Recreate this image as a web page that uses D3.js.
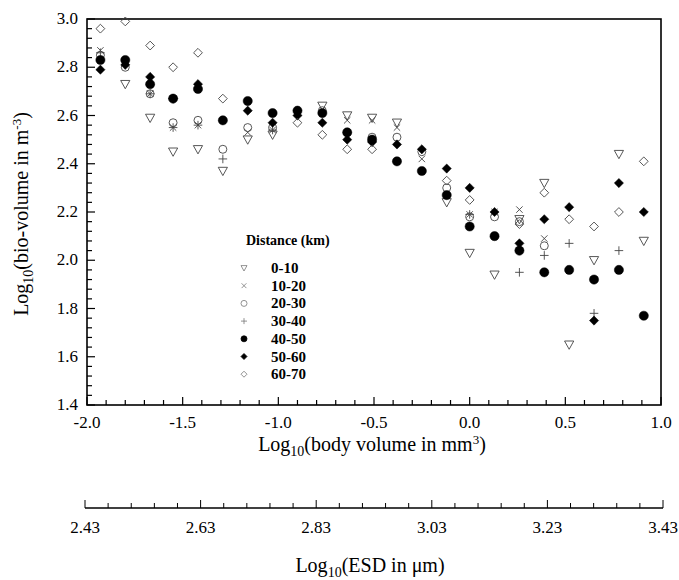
<!DOCTYPE html>
<html><head><meta charset="utf-8">
<script src="https://cdn.jsdelivr.net/npm/d3@7"></script>
<style>
body{margin:0;background:#fff;}
text{font-family:'Liberation Serif','Tinos','Times New Roman','DejaVu Serif','Noto Serif',serif;}
</style></head>
<body><svg id="c" width="679" height="580" font-family="Liberation Serif, Tinos, Times New Roman, DejaVu Serif, serif"></svg>
<script>
// ---- data ----
const xValues = [-1.93,-1.80,-1.67,-1.55,-1.42,-1.29,-1.16,-1.03,-0.90,-0.77,-0.64,-0.51,-0.38,-0.25,-0.12,0.00,0.13,0.26,0.39,0.52,0.65,0.78,0.91];
const seriesNames = ["0-10","10-20","20-30","30-40","40-50","50-60","60-70"];
const d0_10  = [null,2.73,2.59,2.45,2.46,2.37,2.50,2.52,null,2.64,2.60,2.59,2.57,null,2.24,2.03,1.94,2.17,2.32,1.65,2.00,2.44,2.08];
const d10_20 = [2.87,null,2.69,2.55,2.56,null,2.53,2.54,null,null,2.58,2.58,2.55,2.42,null,2.19,2.20,2.21,2.09,null,null,null,null];
const d20_30 = [2.85,2.80,2.69,2.57,2.58,2.46,2.55,2.55,null,2.62,2.53,2.51,2.51,2.45,2.30,2.18,2.18,2.16,2.06,null,null,null,null];
const d30_40 = [2.86,null,2.69,2.55,2.56,2.42,null,2.54,null,null,null,null,null,null,null,2.19,null,1.95,2.02,2.07,1.78,2.04,null];
const d40_50 = [2.83,2.83,2.73,2.67,2.71,2.58,2.66,2.61,2.62,2.61,2.53,2.50,2.41,2.37,2.27,2.14,2.10,2.04,1.95,1.96,1.92,1.96,1.77];
const d50_60 = [2.79,2.81,2.76,2.67,2.73,null,2.62,2.57,2.60,2.57,2.50,2.49,2.48,2.46,2.38,2.30,2.20,2.07,2.17,2.22,1.75,2.32,2.20];
const d60_70 = [2.96,2.99,2.89,2.80,2.86,2.67,null,null,2.57,2.52,2.46,2.46,null,null,2.33,2.25,null,2.15,2.28,2.17,2.14,2.20,2.41];
const seriesValues = [d0_10,d10_20,d20_30,d30_40,d40_50,d50_60,d60_70];
const yTicks = [1.4,1.6,1.8,2.0,2.2,2.4,2.6,2.8,3.0];
const xTicks = [-2.0,-1.5,-1.0,-0.5,0.0,0.5,1.0];
const esdTicks = [2.43,2.63,2.83,3.03,3.23,3.43];

// ---- layout ----
const svg = d3.select("#c");
const L=87, R=661, T=19, B=405;
const x = d3.scaleLinear().domain([-2,1]).range([L,R]);
const y = d3.scaleLinear().domain([1.4,3.0]).range([B,T]);
const xe = d3.scaleLinear().domain([2.43,3.43]).range([85,663]);
const shapes = ["triDown","x","circle","plus","disc","diamondF","diamond"];

function shapePath(type, s){
  const p = d3.path();
  if(type==="triDown"){ p.moveTo(-s,-s*0.8); p.lineTo(s,-s*0.8); p.lineTo(0,s*1.0); p.closePath(); }
  else if(type==="x"){ const a=s*0.8; p.moveTo(-a,-a); p.lineTo(a,a); p.moveTo(-a,a); p.lineTo(a,-a); }
  else if(type==="plus"){ p.moveTo(-s,0); p.lineTo(s,0); p.moveTo(0,-s); p.lineTo(0,s); }
  else if(type==="circle"||type==="disc"){ p.moveTo(s,0); p.arc(0,0,s,0,2*Math.PI); }
  else { p.moveTo(0,-s); p.lineTo(s,0); p.lineTo(0,s); p.lineTo(-s,0); p.closePath(); }
  return p.toString();
}
function styleFor(type){
  if(type==="disc"||type==="diamondF") return {fill:"#000",stroke:"#000",sw:0.5};
  return {fill:"none",stroke:"#444",sw:0.9};
}
const sizeFor = {triDown:4.6,x:4,circle:4,plus:4.3,disc:4.6,diamondF:4.6,diamond:4.4};
const fmt1 = d => d.toFixed(1);
const fmt2 = d => d.toFixed(2);

// frame
svg.append("rect").attr("x",L).attr("y",T).attr("width",R-L).attr("height",B-T)
  .attr("fill","none").attr("stroke","#000").attr("stroke-width",1.6);

// y ticks (inward)
const yMinor = d3.range(0,41).map(i=>1.4+i*0.04);
svg.append("g").selectAll("line").data(yMinor).join("line")
  .attr("x1",L).attr("x2",(d,i)=>L+(i%5===0?8:5))
  .attr("y1",d=>y(d)).attr("y2",d=>y(d)).attr("stroke","#000").attr("stroke-width",1.2);
svg.append("g").selectAll("text").data(yTicks).join("text")
  .attr("x",L-9).attr("y",d=>y(d)+5).attr("text-anchor","end").attr("font-size",17)
  .text(fmt1);

// x ticks (inward)
const xMinor = d3.range(0,31).map(i=>-2+i*0.1);
svg.append("g").selectAll("line").data(xMinor).join("line")
  .attr("x1",d=>x(d)).attr("x2",d=>x(d)).attr("y1",B)
  .attr("y2",(d,i)=>B-(i%5===0?8:5)).attr("stroke","#000").attr("stroke-width",1.2);
svg.append("g").selectAll("text").data(xTicks).join("text")
  .attr("x",d=>x(d)).attr("y",B+23).attr("text-anchor","middle").attr("font-size",17)
  .text(fmt1);

// ESD axis
const EY = 508;
svg.append("line").attr("x1",xe(2.43)).attr("x2",xe(3.43)).attr("y1",EY).attr("y2",EY).attr("stroke","#000").attr("stroke-width",1.4);
const eMinor = d3.range(0,26).map(i=>2.43+i*0.04);
svg.append("g").selectAll("line").data(eMinor).join("line")
  .attr("x1",d=>xe(d)).attr("x2",d=>xe(d)).attr("y1",EY)
  .attr("y2",(d,i)=>EY-(i%5===0?8:5)).attr("stroke","#000").attr("stroke-width",1);
svg.append("g").selectAll("text").data(esdTicks).join("text")
  .attr("x",d=>xe(d)).attr("y",EY+25).attr("text-anchor","middle").attr("font-size",17)
  .text(fmt2);

// axis titles
const xt = svg.append("text").attr("x",372).attr("y",451).attr("text-anchor","middle").attr("font-size",20);
xt.append("tspan").text("Log");
xt.append("tspan").attr("font-size",14).attr("dy",5).text("10");
xt.append("tspan").attr("dy",-5).text("(body volume in mm");
xt.append("tspan").attr("font-size",13).attr("dy",-7).text("3");
xt.append("tspan").attr("dy",7).text(")");

const et = svg.append("text").attr("x",370).attr("y",572).attr("text-anchor","middle").attr("font-size",20);
et.append("tspan").text("Log");
et.append("tspan").attr("font-size",14).attr("dy",5).text("10");
et.append("tspan").attr("dy",-5).text("(ESD in μm)");

const yt = svg.append("text").attr("transform","translate(28,214) rotate(-90)").attr("text-anchor","middle").attr("font-size",20);
yt.append("tspan").text("Log");
yt.append("tspan").attr("font-size",14).attr("dy",5).text("10");
yt.append("tspan").attr("dy",-5).text("(bio-volume in m");
yt.append("tspan").attr("font-size",13).attr("dy",-7).text("-3");
yt.append("tspan").attr("dy",7).text(")");

// data points
seriesValues.forEach((vals,si)=>{
  const t = shapes[si], st = styleFor(t);
  const pts = vals.map((v,i)=>({x:xValues[i],v})).filter(d=>d.v!==null);
  svg.append("g").selectAll("path").data(pts).join("path")
    .attr("transform",d=>`translate(${x(d.x)},${y(d.v)})`)
    .attr("d",shapePath(t,sizeFor[t]))
    .attr("fill",st.fill).attr("stroke",st.stroke).attr("stroke-width",st.sw);
});

// legend
const lg = svg.append("g");
lg.append("text").attr("x",246).attr("y",245).attr("font-size",14).attr("font-weight","bold").text("Distance (km)");
seriesNames.forEach((n,i)=>{
  const cy = 268 + i*17.7;
  const t = shapes[i], st = styleFor(t);
  lg.append("path").attr("transform",`translate(244,${cy})`).attr("d",shapePath(t,3))
    .attr("fill",st.fill).attr("stroke",st.stroke==="#000"?"#000":"#777").attr("stroke-width",0.8);
  lg.append("text").attr("x",271).attr("y",cy+5).attr("font-size",15).attr("font-weight","bold").text(n);
});
</script></body></html>
